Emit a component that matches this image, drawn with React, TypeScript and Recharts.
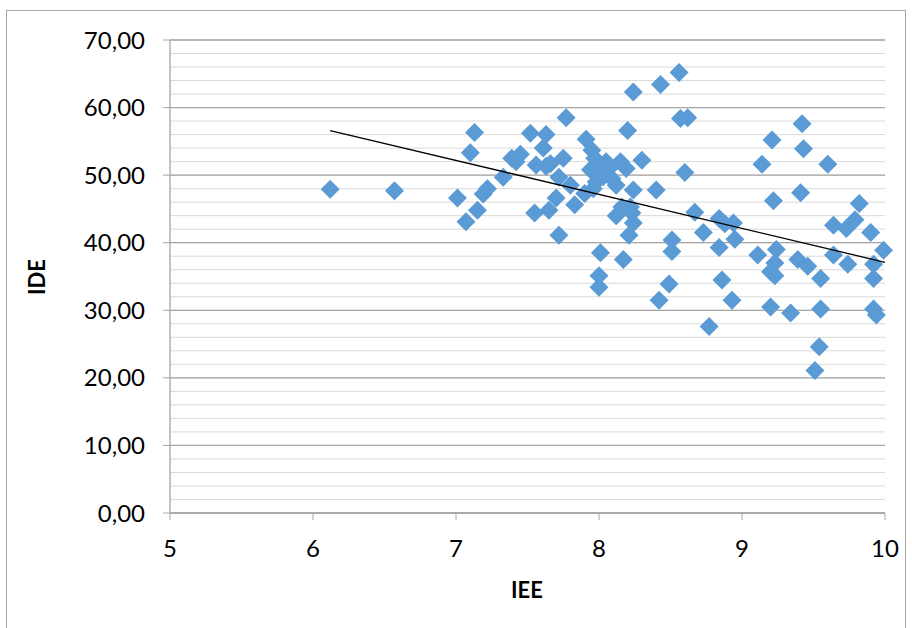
import { ScatterChart, Scatter, XAxis, YAxis, CartesianGrid, ReferenceLine } from "recharts";

// IEE (x) and IDE (y), same order in both arrays
const IEE = [
  6.12, 6.57, 7.01, 7.07, 7.1, 7.13, 7.15, 7.19, 7.22, 7.33,
  7.39, 7.42, 7.45, 7.52, 7.55, 7.56, 7.61, 7.63, 7.63, 7.65,
  7.66, 7.7, 7.72, 7.72, 7.75, 7.77, 7.8, 7.83, 7.9, 7.91,
  7.94, 7.95, 7.96, 7.97, 7.98, 8.0, 8.0, 8.0, 8.01, 8.02,
  8.03, 8.05, 8.07, 8.09, 8.12, 8.12, 8.15, 8.17, 8.16, 8.19,
  8.2, 8.21, 8.22, 8.23, 8.24, 8.24, 8.24, 8.3, 8.4, 8.42,
  8.43, 8.49, 8.51, 8.51, 8.56, 8.57, 8.62, 8.6, 8.67, 8.73,
  8.77, 8.84, 8.84, 8.86, 8.88, 8.93, 8.94, 8.95, 9.11, 9.14,
  9.2, 9.2, 9.21, 9.22, 9.23, 9.23, 9.24, 9.34, 9.39, 9.41,
  9.42, 9.43, 9.46, 9.51, 9.54, 9.55, 9.55, 9.6, 9.64, 9.64,
  9.73, 9.74, 9.79, 9.82, 9.9, 9.92, 9.92, 9.92, 9.94, 9.99,
];
const IDE = [
  47.9, 47.7, 46.6, 43.1, 53.3, 56.3, 44.8, 47.2, 48.0, 49.7,
  52.5, 52.0, 53.1, 56.2, 44.4, 51.5, 54.0, 56.0, 51.3, 44.8,
  51.7, 46.6, 49.7, 41.1, 52.5, 58.5, 48.5, 45.6, 47.3, 55.3,
  50.8, 53.7, 48.0, 52.5, 49.0, 51.5, 35.1, 33.4, 38.5, 50.5,
  49.8, 52.0, 51.0, 49.5, 48.5, 44.0, 52.0, 37.5, 45.3, 51.0,
  56.6, 41.1, 45.3, 44.4, 62.3, 47.8, 42.9, 52.2, 47.8, 31.5,
  63.4, 33.9, 40.4, 38.7, 65.2, 58.4, 58.5, 50.4, 44.5, 41.5,
  27.6, 39.3, 43.6, 34.5, 42.8, 31.5, 42.9, 40.5, 38.2, 51.6,
  35.7, 30.5, 55.2, 46.2, 35.1, 37.0, 39.0, 29.6, 37.5, 47.4,
  57.6, 53.9, 36.5, 21.1, 24.6, 34.7, 30.2, 51.6, 42.6, 38.2,
  42.1, 36.8, 43.4, 45.8, 41.5, 36.8, 34.7, 30.2, 29.3, 38.9,
];

// linear trend line end points
const TREND_X = [6.12, 10];
const TREND_Y = [56.6, 37.1];

const X_TICKS = [5, 6, 7, 8, 9, 10];
const Y_MAJOR = [0, 10, 20, 30, 40, 50, 60, 70];
const Y_MINOR = [
  0, 2, 4, 6, 8, 10, 12, 14, 16, 18, 20, 22, 24, 26, 28, 30, 32, 34, 36,
  38, 40, 42, 44, 46, 48, 50, 52, 54, 56, 58, 60, 62, 64, 66, 68, 70,
];

const points = IEE.map((x, i) => ({ x, y: IDE[i] }));
const trend = TREND_X.map((x, i) => ({ x, y: TREND_Y[i] }));

const FONT = "Lato, 'Open Sans', sans-serif";
const AXIS_GREY = "#a6a6a6";

const Diamond = (props: any) => {
  const { cx, cy } = props;
  const r = 9.5;
  return (
    <polygon
      points={`${cx},${cy - r} ${cx + r},${cy} ${cx},${cy + r} ${cx - r},${cy}`}
      fill="#5b9bd5"
    />
  );
};

const YTick = (props: any) => {
  const { x, y, payload } = props;
  if (payload.value % 10 !== 0) return <g />;
  return (
    <g>
      <line x1={x - 7} y1={y} x2={x} y2={y} stroke={AXIS_GREY} />
      <text
        x={x - 25}
        y={y}
        dy="0.36em"
        textAnchor="end"
        fontFamily={FONT}
        fontSize={24}
        fill="#000"
      >
        {payload.value.toFixed(2).replace(".", ",")}
      </text>
    </g>
  );
};

export default function App() {
  return (
    <div
      style={{
        position: "absolute",
        left: 0,
        top: 0,
        width: 912,
        height: 628,
        background: "#fff",
        overflow: "hidden",
      }}
    >
      <div
        style={{
          position: "absolute",
          left: 6,
          top: 10,
          width: 900,
          height: 640,
          border: "1px solid #a6a6a6",
          boxSizing: "border-box",
        }}
      />
      <div style={{ position: "absolute", left: 0, top: 0 }}>
        <ScatterChart
          width={912}
          height={628}
          margin={{ top: 40, right: 27, bottom: 0, left: 0 }}
        >
          <CartesianGrid vertical={false} stroke="#d9d9d9" />
          {Y_MAJOR.map((v) => (
            <ReferenceLine key={v} y={v} stroke={AXIS_GREY} strokeWidth={1.3} />
          ))}
          <XAxis
            type="number"
            dataKey="x"
            domain={[5, 10]}
            ticks={X_TICKS}
            height={115}
            axisLine={{ stroke: AXIS_GREY, strokeWidth: 1.3 }}
            tickLine={{ stroke: AXIS_GREY }}
            tickSize={7}
            tickMargin={20}
            tick={{ fontFamily: FONT, fontSize: 24, fill: "#000" }}
            label={() => (
              <text
                x={527}
                y={598}
                textAnchor="middle"
                fontFamily={FONT}
                fontWeight="bold"
                fontSize={22}
                fill="#000"
              >
                IEE
              </text>
            )}
          />
          <YAxis
            type="number"
            dataKey="y"
            domain={[0, 70]}
            ticks={Y_MINOR}
            interval={0}
            width={170}
            axisLine={{ stroke: AXIS_GREY, strokeWidth: 1.3 }}
            tickLine={false}
            tickSize={0}
            tickMargin={0}
            tick={<YTick />}
            label={() => (
              <text
                x={36}
                y={277}
                transform="rotate(-90 36 277)"
                textAnchor="middle"
                dominantBaseline="central"
                fontFamily={FONT}
                fontWeight="bold"
                fontSize={22}
                fill="#000"
              >
                IDE
              </text>
            )}
          />
          <Scatter data={points} shape={<Diamond />} isAnimationActive={false} />
          <Scatter
            data={trend}
            line={{ stroke: "#000", strokeWidth: 1.3 }}
            shape={() => <g />}
            isAnimationActive={false}
          />
        </ScatterChart>
      </div>
    </div>
  );
}
